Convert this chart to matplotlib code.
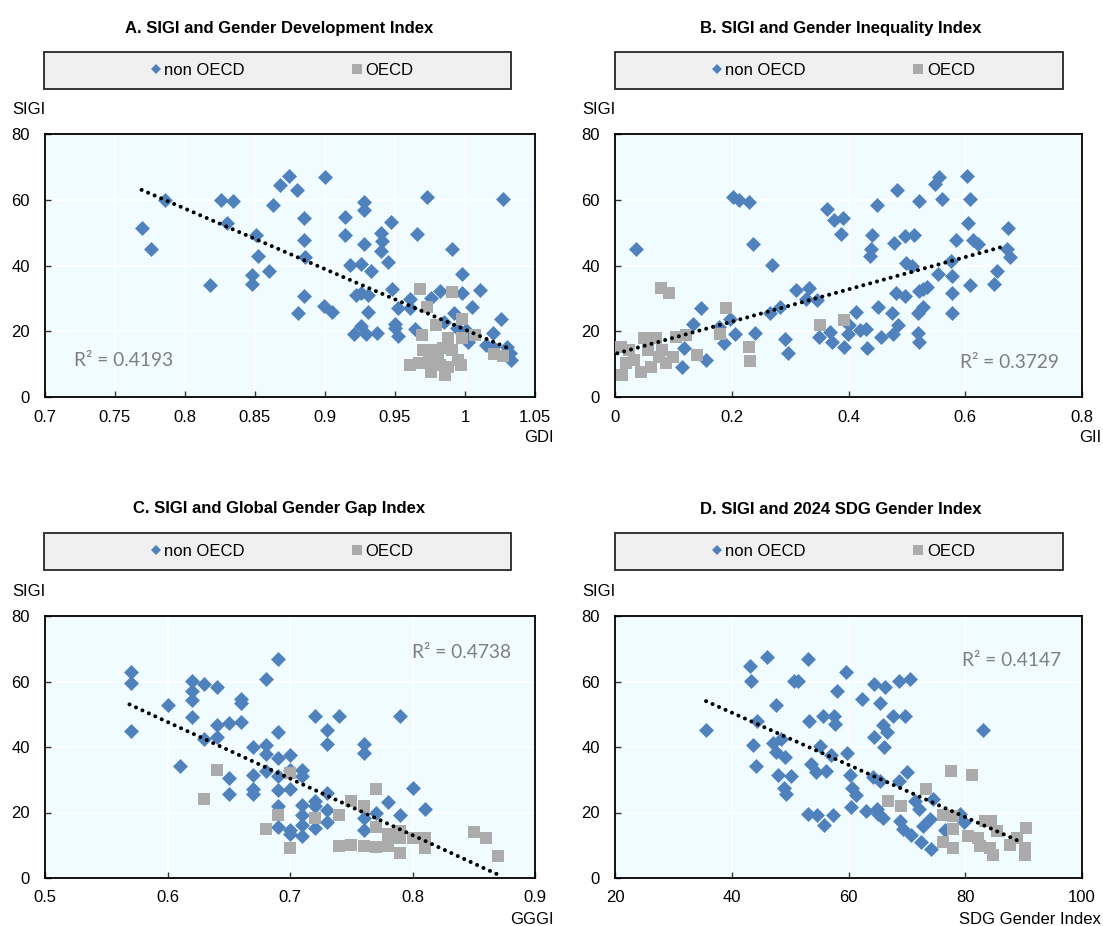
import matplotlib
matplotlib.use("Agg")
import matplotlib.pyplot as plt
from matplotlib.patches import Rectangle
from matplotlib.lines import Line2D
from matplotlib import font_manager
import numpy as np

# ---------------- data ----------------
# Panel A: SIGI vs GDI
gdi_non_x = [0.769, 0.776, 0.786, 0.818, 0.826, 0.834, 0.830, 0.851, 0.852, 0.848, 0.848, 0.860, 0.863, 0.868,
             0.874, 0.880, 0.885, 0.885, 0.886, 0.885, 0.881, 0.900, 0.899, 0.905, 0.914, 0.914, 0.918, 0.926,
             0.922, 0.926, 0.931, 0.928, 0.928, 0.928, 0.933, 0.931, 0.926, 0.921, 0.929, 0.937, 0.940, 0.941,
             0.940, 0.945, 0.947, 0.948, 0.952, 0.950, 0.950, 0.952, 0.961, 0.961, 0.964, 0.966, 0.973, 0.976,
             0.982, 0.985, 0.991, 0.992, 0.994, 0.998, 0.998, 1.001, 1.002, 1.005, 1.011, 1.015, 1.020, 1.026,
             1.027, 1.030, 1.032, 1.033, 1.020]
gdi_non_y = [51.3, 45.1, 59.9, 34.0, 60.0, 59.6, 53.0, 49.4, 43.0, 37.0, 34.3, 38.4, 58.4, 64.5,
             67.3, 62.9, 54.5, 47.7, 42.6, 30.6, 25.4, 66.8, 27.8, 25.8, 54.7, 49.2, 40.1, 40.5,
             30.9, 31.6, 30.9, 59.4, 56.8, 46.6, 38.2, 25.8, 21.7, 19.1, 19.1, 19.4, 49.8, 47.4,
             44.5, 41.1, 53.3, 32.9, 27.0, 22.1, 20.9, 18.6, 29.9, 27.0, 20.7, 49.6, 60.7, 30.1,
             32.1, 22.9, 45.1, 25.7, 20.9, 37.5, 31.6, 20.4, 16.6, 27.5, 32.6, 15.8, 19.6, 23.8,
             60.1, 15.3, 13.3, 11.2, 15.3]
gdi_oecd_x = [0.968, 0.991, 0.973, 0.979, 0.969, 0.998, 0.988, 1.007, 0.998, 0.970, 0.976, 0.984, 0.991,
              0.961, 0.967, 0.974, 0.976, 0.982, 0.986, 0.988, 0.997, 0.995, 1.021, 1.027, 0.981]
gdi_oecd_y = [32.9, 31.9, 27.3, 21.9, 18.9, 23.8, 17.8, 18.9, 17.8, 14.3, 14.3, 14.8, 14.3,
              9.7, 10.2, 11.2, 7.6, 9.7, 6.6, 9.2, 9.7, 11.2, 13.0, 12.4, 12.2]
gdi_trend_x = [0.769, 1.031]
gdi_trend_y = [63.0, 14.8]

# Panel B: SIGI vs GII
gii_non_x = [0.036, 0.202, 0.212, 0.229, 0.236, 0.269, 0.147, 0.133, 0.118, 0.114, 0.156, 0.187, 0.179, 0.197,
             0.206, 0.240, 0.265, 0.282, 0.292, 0.297, 0.310, 0.333, 0.328, 0.346, 0.349, 0.364, 0.368, 0.371,
             0.375, 0.390, 0.387, 0.392, 0.400, 0.399, 0.412, 0.419, 0.430, 0.432, 0.448, 0.440, 0.439, 0.436,
             0.450, 0.455, 0.474, 0.477, 0.485, 0.483, 0.478, 0.497, 0.513, 0.498, 0.508, 0.482, 0.497, 0.521,
             0.521, 0.528, 0.534, 0.527, 0.519, 0.519, 0.521, 0.548, 0.555, 0.561, 0.553, 0.575, 0.578, 0.578,
             0.577, 0.585, 0.603, 0.608, 0.605, 0.613, 0.621, 0.608, 0.649, 0.655, 0.674, 0.671, 0.677]
gii_non_y = [45.1, 60.7, 59.9, 59.3, 46.6, 40.1, 27.0, 22.2, 14.8, 9.0, 11.2, 16.3, 21.4, 23.8,
             19.1, 19.4, 25.5, 27.5, 17.6, 13.3, 32.6, 33.1, 29.8, 29.4, 18.3, 57.1, 19.9, 16.8,
             53.7, 54.5, 49.6, 15.3, 21.9, 19.1, 26.0, 20.4, 20.6, 14.8, 58.3, 49.2, 44.9, 42.8,
             27.5, 18.1, 25.7, 19.2, 21.9, 62.9, 46.9, 49.1, 49.4, 40.8, 39.8, 31.6, 30.6, 59.6,
             32.1, 32.8, 33.4, 27.5, 25.7, 19.6, 16.6, 64.7, 67.0, 60.1, 37.5, 41.3, 36.7, 31.6,
             25.5, 47.9, 67.3, 60.1, 52.8, 47.9, 46.4, 34.1, 34.5, 38.2, 51.3, 45.1, 42.5]
gii_oecd_x = [0.010, 0.012, 0.018, 0.033, 0.044, 0.050, 0.061, 0.070, 0.078, 0.093, 0.076, 0.087, 0.099,
              0.104, 0.121, 0.081, 0.141, 0.180, 0.190, 0.230, 0.231, 0.352, 0.392, 0.056, 0.024]
gii_oecd_y = [15.3, 6.6, 10.2, 11.2, 7.6, 17.8, 9.0, 17.8, 33.1, 31.6, 12.2, 10.2, 12.2,
              18.3, 18.9, 14.3, 12.7, 19.2, 27.0, 15.1, 10.9, 21.9, 23.4, 14.3, 14.3]
gii_trend_x = [0.004, 0.668]
gii_trend_y = [13.3, 45.9]

# Panel C: SIGI vs GGGI
ggg_non_x = [0.57, 0.57, 0.57, 0.60, 0.61, 0.62, 0.62, 0.62, 0.62, 0.63, 0.64, 0.63, 0.64, 0.64, 0.65, 0.65,
             0.65, 0.66, 0.66, 0.66, 0.67, 0.67, 0.67, 0.67, 0.68, 0.68, 0.68, 0.68, 0.69, 0.69, 0.69, 0.69,
             0.69, 0.69, 0.69, 0.70, 0.70, 0.70, 0.70, 0.70, 0.71, 0.71, 0.71, 0.71, 0.71, 0.71, 0.72, 0.72,
             0.72, 0.72, 0.73, 0.73, 0.73, 0.73, 0.73, 0.74, 0.76, 0.76, 0.76, 0.76, 0.77, 0.78, 0.79, 0.79,
             0.80, 0.81]
ggg_non_y = [63.0, 59.6, 44.9, 52.7, 34.1, 60.3, 57.1, 54.5, 49.2, 59.3, 58.4, 42.5, 46.6, 43.0, 47.4, 30.6,
             25.8, 54.8, 53.3, 47.7, 40.0, 31.4, 27.2, 25.5, 60.9, 40.5, 38.0, 32.6, 67.0, 44.6, 36.7, 31.1,
             27.0, 21.9, 15.5, 37.5, 33.1, 27.3, 14.8, 13.3, 32.9, 31.1, 22.2, 19.1, 16.3, 12.9, 49.4, 23.6,
             21.9, 15.3, 45.1, 41.0, 26.0, 20.9, 17.0, 49.6, 41.0, 38.2, 18.3, 14.8, 19.9, 23.2, 49.6, 19.1,
             27.5, 21.1]
ggg_oecd_x = [0.64, 0.63, 0.68, 0.69, 0.70, 0.70, 0.72, 0.74, 0.74, 0.75, 0.75, 0.76, 0.76, 0.77, 0.77,
              0.77, 0.78, 0.78, 0.79, 0.79, 0.79, 0.80, 0.81, 0.81, 0.85, 0.86, 0.87]
ggg_oecd_y = [32.9, 24.0, 15.1, 19.1, 32.1, 9.2, 18.3, 19.1, 9.7, 23.6, 10.0, 21.9, 9.7, 27.2, 15.5,
              9.4, 13.3, 9.7, 14.5, 12.2, 7.6, 12.2, 12.2, 9.2, 14.0, 12.2, 6.8]
ggg_trend_x = [0.569, 0.870]
ggg_trend_y = [53.0, 1.0]

# Panel D: SIGI vs 2024 SDG Gender Index
sdg_non_x = [35.6, 43.1, 43.3, 46.0, 44.3, 43.6, 44.2, 47.6, 47.1, 48.4, 47.5, 49.1, 47.9, 48.9, 49.3, 50.1,
             50.6, 51.3, 53.0, 53.3, 53.6, 54.5, 55.2, 56.2, 55.6, 57.6, 57.7, 57.0, 53.0, 54.6, 55.8, 57.3,
             58.1, 59.6, 59.8, 60.2, 60.6, 61.2, 60.5, 62.3, 63.0, 64.3, 66.2, 65.4, 65.9, 66.6, 64.4, 66.0,
             67.6, 69.7, 68.6, 70.6, 64.2, 65.4, 64.8, 65.9, 65.0, 68.7, 70.1, 68.8, 69.3, 70.7, 71.4, 72.1,
             72.8, 72.4, 74.0, 74.1, 74.4, 76.5, 79.1, 79.8, 83.0]
sdg_non_y = [45.1, 64.7, 60.3, 67.5, 47.9, 40.6, 34.1, 52.8, 41.1, 42.3, 38.4, 36.9, 31.6, 27.5, 25.5, 31.1,
             60.1, 60.3, 66.8, 47.9, 34.7, 32.3, 40.3, 32.8, 49.6, 49.6, 46.9, 37.5, 19.4, 19.1, 16.3, 19.1,
             57.1, 63.0, 38.2, 31.6, 27.5, 25.2, 21.7, 54.7, 20.6, 59.3, 58.4, 53.3, 46.6, 44.5, 43.0, 40.1,
             49.4, 49.6, 60.3, 60.9, 30.8, 29.6, 21.1, 18.3, 19.4, 29.6, 32.4, 17.3, 15.0, 13.0, 23.4, 21.1,
             15.8, 10.9, 18.0, 8.9, 24.0, 14.8, 19.4, 17.0, 45.1]
sdg_oecd_x = [66.8, 69.0, 73.2, 77.5, 81.2, 76.2, 77.9, 77.9, 76.2, 77.9, 80.5, 82.2, 83.4, 84.4, 85.4,
              82.5, 84.8, 84.2, 87.6, 88.8, 90.4, 90.2, 90.2]
sdg_oecd_y = [23.4, 21.9, 27.2, 32.8, 31.6, 19.1, 18.9, 15.0, 10.9, 9.2, 12.7, 12.2, 17.5, 17.3, 14.3,
              9.7, 7.1, 9.2, 10.2, 12.2, 15.3, 7.1, 9.2]
sdg_trend_x = [35.6, 89.9]
sdg_trend_y = [54.0, 10.7]

titles = ["A. SIGI and Gender Development Index", "B. SIGI and Gender Inequality Index",
          "C. SIGI and Global Gender Gap Index", "D. SIGI and 2024 SDG Gender Index"]
x_labels = ["GDI", "GII", "GGGI", "SDG Gender Index"]
r2_labels = ["R² = 0.4193", "R² = 0.3729", "R² = 0.4738", "R² = 0.4147"]
x_ticks = [[0.7, 0.75, 0.8, 0.85, 0.9, 0.95, 1.0, 1.05],
           [0, 0.2, 0.4, 0.6, 0.8],
           [0.5, 0.6, 0.7, 0.8, 0.9],
           [20, 40, 60, 80, 100]]
y_ticks = [0, 20, 40, 60, 80]
series_names = ["non OECD", "OECD"]

# ---------------- style ----------------
avail = {f.name for f in font_manager.fontManager.ttflist}
base_family = [f for f in ["Liberation Sans Narrow", "Arial Narrow", "Liberation Sans", "DejaVu Sans"]
               if f in avail]
plt.rcParams['font.family'] = base_family
r2_family = [f for f in ["Lato", "Open Sans", "DejaVu Sans"] if f in avail]

BLUE = "#4F81BD"
GREY = "#ABABAB"
BG = "#F0FCFF"
FS = 12

W, H = 1103, 926
fig = plt.figure(figsize=(W / 100, H / 100), dpi=100)

def fx(px):
    return px / W

def fy(py):
    return 1 - py / H

# axes boxes in pixels (left, top, right, bottom)
axes_px = [(45, 134, 535, 397), (615, 134, 1082, 397), (45, 616, 535, 878), (615, 616, 1082, 878)]
legend_px = [(44, 52, 511, 89), (615, 52, 1063, 89), (44, 533, 511, 570), (615, 533, 1063, 570)]
r2_pos = [(0.16, 0.14), (0.845, 0.13), (0.85, 0.86), (0.85, 0.83)]

panels = [
    (gdi_non_x, gdi_non_y, gdi_oecd_x, gdi_oecd_y, gdi_trend_x, gdi_trend_y),
    (gii_non_x, gii_non_y, gii_oecd_x, gii_oecd_y, gii_trend_x, gii_trend_y),
    (ggg_non_x, ggg_non_y, ggg_oecd_x, ggg_oecd_y, ggg_trend_x, ggg_trend_y),
    (sdg_non_x, sdg_non_y, sdg_oecd_x, sdg_oecd_y, sdg_trend_x, sdg_trend_y),
]

for i, (nx, ny, ox, oy, tx, ty) in enumerate(panels):
    l, t, r, b = axes_px[i]
    ax = fig.add_axes([fx(l), fy(b), fx(r - l), (b - t) / H])
    ax.set_facecolor(BG)
    ax.scatter(nx, ny, marker="D", s=7.6 ** 2, color=BLUE, linewidths=0, zorder=3)
    ax.scatter(ox, oy, marker="s", s=9.2 ** 2, color=GREY, linewidths=0, zorder=4)

    ax.plot(tx, ty, color="black", lw=2.9, linestyle=(0, (0.01, 1.75)),
            dash_capstyle="round", zorder=5)

    ax.set_xlim(x_ticks[i][0], x_ticks[i][-1])
    ax.set_ylim(0, 80)
    ax.set_xticks(x_ticks[i])
    ax.set_yticks(y_ticks)
    ax.xaxis.set_major_formatter(matplotlib.ticker.FuncFormatter(lambda v, p: f"{v:g}"))
    ax.grid(True, color="white", lw=1.2, zorder=0)
    ax.set_axisbelow(True)
    ax.tick_params(direction="in", length=4, width=1, colors="#333333", labelcolor="black",
                   labelsize=FS)
    ax.tick_params(axis="y", pad=11)
    ax.tick_params(axis="x", pad=9)
    for s in ax.spines.values():
        s.set_linewidth(1.3)
        s.set_color("black")

    ax.text(r2_pos[i][0], r2_pos[i][1], r2_labels[i], transform=ax.transAxes, ha="center", va="center",
            fontsize=13.8, color="#7F7F7F", family=r2_family, zorder=6)

    # axis labels
    fig.text(fx(l - 33), fy(t - 24), "SIGI", ha="left", va="center", fontsize=FS)
    fig.text(fx(r + 19), fy(b + 41), x_labels[i], ha="right", va="center", fontsize=FS)

    # legend box + title
    ll, lt, lr, lb = legend_px[i]
    fig.add_artist(Rectangle((fx(ll), fy(lb)), fx(lr - ll), (lb - lt) / H, transform=fig.transFigure,
                             facecolor="#F0F0F0", edgecolor="#262626", lw=1.3))
    handles = [Line2D([], [], marker="D", color=BLUE, ls="none", markersize=5.4, markeredgewidth=0),
               Line2D([], [], marker="s", color=GREY, ls="none", markersize=7, markeredgewidth=0)]
    fig.legend(handles, series_names, loc="center", bbox_to_anchor=(fx((ll + lr) / 2 + 4), fy((lt + lb) / 2)),
               ncol=2, frameon=False, fontsize=FS, handlelength=0.7, handletextpad=0.15,
               columnspacing=6.4, borderpad=0)
    fig.text(fx((ll + lr) / 2 + 2), fy(lt - 24), titles[i], ha="center", va="center",
             fontsize=FS, fontweight="bold")

fig.savefig("out.png", dpi=100)
